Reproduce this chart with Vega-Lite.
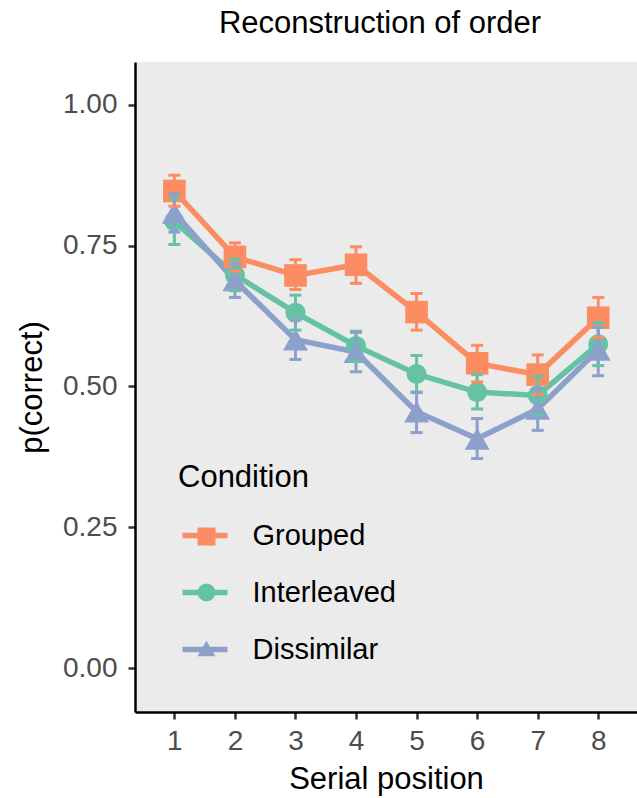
{
  "$schema": "https://vega.github.io/schema/vega-lite/v6.json",
  "width": 502,
  "height": 650,
  "autosize": {"type": "none"},
  "padding": {"left": 135, "top": 62, "right": 0, "bottom": 86},
  "background": "white",
  "title": {"text": "Reconstruction of order", "fontSize": 31, "font": "Liberation Sans", "fontWeight": "normal", "color": "black", "anchor": "middle", "offset": 22, "dx": -6},
  "data": {
    "values": [
      {"Condition": "Grouped", "pos": 1, "p": 0.847, "lo": 0.820, "hi": 0.875},
      {"Condition": "Grouped", "pos": 2, "p": 0.730, "lo": 0.705, "hi": 0.755},
      {"Condition": "Grouped", "pos": 3, "p": 0.697, "lo": 0.672, "hi": 0.725},
      {"Condition": "Grouped", "pos": 4, "p": 0.716, "lo": 0.683, "hi": 0.748},
      {"Condition": "Grouped", "pos": 5, "p": 0.632, "lo": 0.600, "hi": 0.665},
      {"Condition": "Grouped", "pos": 6, "p": 0.541, "lo": 0.508, "hi": 0.573},
      {"Condition": "Grouped", "pos": 7, "p": 0.521, "lo": 0.486, "hi": 0.556},
      {"Condition": "Grouped", "pos": 8, "p": 0.622, "lo": 0.587, "hi": 0.658},
      {"Condition": "Interleaved", "pos": 1, "p": 0.793, "lo": 0.752, "hi": 0.835},
      {"Condition": "Interleaved", "pos": 2, "p": 0.698, "lo": 0.670, "hi": 0.726},
      {"Condition": "Interleaved", "pos": 3, "p": 0.631, "lo": 0.600, "hi": 0.662},
      {"Condition": "Interleaved", "pos": 4, "p": 0.572, "lo": 0.545, "hi": 0.598},
      {"Condition": "Interleaved", "pos": 5, "p": 0.522, "lo": 0.489, "hi": 0.555},
      {"Condition": "Interleaved", "pos": 6, "p": 0.490, "lo": 0.460, "hi": 0.521},
      {"Condition": "Interleaved", "pos": 7, "p": 0.484, "lo": 0.450, "hi": 0.518},
      {"Condition": "Interleaved", "pos": 8, "p": 0.575, "lo": 0.537, "hi": 0.613},
      {"Condition": "Dissimilar", "pos": 1, "p": 0.808, "lo": 0.774, "hi": 0.842},
      {"Condition": "Dissimilar", "pos": 2, "p": 0.688, "lo": 0.658, "hi": 0.718},
      {"Condition": "Dissimilar", "pos": 3, "p": 0.583, "lo": 0.548, "hi": 0.618},
      {"Condition": "Dissimilar", "pos": 4, "p": 0.561, "lo": 0.526, "hi": 0.596},
      {"Condition": "Dissimilar", "pos": 5, "p": 0.455, "lo": 0.418, "hi": 0.490},
      {"Condition": "Dissimilar", "pos": 6, "p": 0.407, "lo": 0.372, "hi": 0.443},
      {"Condition": "Dissimilar", "pos": 7, "p": 0.460, "lo": 0.422, "hi": 0.497},
      {"Condition": "Dissimilar", "pos": 8, "p": 0.565, "lo": 0.519, "hi": 0.605}
    ]
  },
  "encoding": {
    "x": {"field": "pos", "type": "quantitative", "title": "Serial position",
      "scale": {"domain": [0.35, 8.64], "nice": false, "zero": false},
      "axis": {"values": [1, 2, 3, 4, 5, 6, 7, 8], "format": "d", "labelFlush": false, "labelOverlap": false}}
  },
  "layer": [
    {
      "mark": {"type": "line", "strokeWidth": 5.5},
      "encoding": {
        "y": {"field": "p", "type": "quantitative", "title": "p(correct)",
          "scale": {"domain": [-0.078, 1.076], "nice": false, "zero": false},
          "axis": {"values": [0, 0.25, 0.5, 0.75, 1], "format": ".2f", "labelFlush": false, "labelOverlap": false}},
        "stroke": {"field": "Condition", "type": "nominal", "sort": ["Grouped", "Interleaved", "Dissimilar"],
          "scale": {"range": ["#FC8D62", "#66C2A5", "#8DA0CB"]},
          "legend": {"title": "Condition", "orient": "none", "legendX": 43, "legendY": 401, "zindex": 0,
            "symbolType": "stroke", "symbolSize": 2025, "symbolStrokeWidth": 5.5,
            "symbolOffset": 1.5, "labelOffset": 22, "rowPadding": 16, "titlePadding": 16,
            "titleFontSize": 31, "labelFontSize": 29, "padding": 0}}
      }
    },
    {
      "mark": {"type": "point", "filled": true, "opacity": 1, "strokeWidth": 0},
      "encoding": {
        "y": {"field": "p", "type": "quantitative", "title": "p(correct)"},
        "fill": {"field": "Condition", "type": "nominal",
          "scale": {"domain": ["Grouped", "Interleaved", "Dissimilar"], "range": ["#FC8D62", "#66C2A5", "#8DA0CB"]},
          "legend": {"title": null, "orient": "none", "legendX": 43, "legendY": 460, "zindex": 1,
            "symbolSize": 324, "symbolStrokeWidth": 0, "symbolOffset": 14, "labelOffset": 28,
            "rowPadding": 26, "labelFontSize": 29, "labelExpr": "''",
            "padding": 0, "symbolOpacity": 1}},
        "shape": {"field": "Condition", "type": "nominal",
          "scale": {"domain": ["Grouped", "Interleaved", "Dissimilar"], "range": ["square", "circle", "triangle-up"]},
          "legend": {"title": null, "orient": "none", "legendX": 43, "legendY": 460, "zindex": 1,
            "symbolSize": 324, "symbolStrokeWidth": 0, "symbolOffset": 14, "labelOffset": 28,
            "rowPadding": 26, "labelFontSize": 29, "labelExpr": "''",
            "padding": 0, "symbolOpacity": 1}},
        "size": {"field": "Condition", "type": "nominal",
          "scale": {"range": [625, 400, 361]}, "legend": null}
      }
    },
    {
      "mark": {"type": "rule", "strokeWidth": 3},
      "encoding": {
        "y": {"field": "lo", "type": "quantitative", "title": "p(correct)"},
        "y2": {"field": "hi"},
        "stroke": {"field": "Condition", "type": "nominal", "sort": ["Grouped", "Interleaved", "Dissimilar"], "legend": null}
      }
    },
    {
      "mark": {"type": "tick", "orient": "horizontal", "size": 12, "thickness": 3, "opacity": 1},
      "encoding": {
        "y": {"field": "lo", "type": "quantitative", "title": "p(correct)"},
        "fill": {"field": "Condition", "type": "nominal", "legend": null}
      }
    },
    {
      "mark": {"type": "tick", "orient": "horizontal", "size": 12, "thickness": 3, "opacity": 1},
      "encoding": {
        "y": {"field": "hi", "type": "quantitative", "title": "p(correct)"},
        "fill": {"field": "Condition", "type": "nominal", "legend": null}
      }
    }
  ],
  "config": {
    "font": "Liberation Sans",
    "view": {"fill": "#EBEBEB", "stroke": null},
    "axis": {"grid": false, "domainColor": "black", "domainWidth": 2.5, "tickColor": "#333333", "tickWidth": 2.5, "tickSize": 7,
      "labelColor": "#4D4D4D", "labelFontSize": 28, "titleFontSize": 31, "titleColor": "black", "titleFontWeight": "normal",
      "labelFont": "Liberation Sans", "titleFont": "Liberation Sans"},
    "axisX": {"labelPadding": 8, "titlePadding": 9},
    "axisY": {"labelPadding": 11, "titlePadding": 14},
    "legend": {"labelFont": "Liberation Sans", "titleFont": "Liberation Sans", "titleFontWeight": "normal", "labelColor": "black", "titleColor": "black"}
  }
}
